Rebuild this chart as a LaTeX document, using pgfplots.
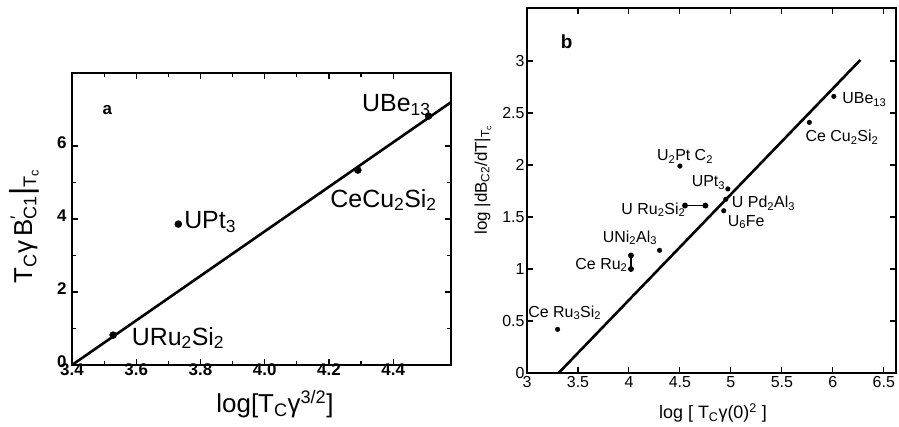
\documentclass[border=0pt]{standalone}
\usepackage{fontspec}
\setmainfont{Liberation Sans}
\usepackage{pgfplots}
\pgfplotsset{compat=1.18}
\begin{document}
\begin{tikzpicture}[x=1bp,y=1bp]
\useasboundingbox (0,0) rectangle (899,426);
% ---------------- panel a ----------------
\begin{axis}[
  at={(72bp,61bp)}, anchor=south west, scale only axis,
  width=379bp, height=292bp,
  xmin=3.4, xmax=4.58, ymin=0, ymax=8,
  xtick={3.4,3.6,3.8,4.0,4.2,4.4},
  xticklabels={3.4,3.6,3.8,4.0,4.2,4.4},
  ytick={0,2,4,6}, yticklabels={0,2,4,6},
  minor x tick num=1, minor y tick num=1,
  tick align=inside, major tick length=6bp, minor tick length=4bp,
  axis line style={line width=1.6bp},
  every tick/.style={line width=1.2bp,black},
  /pgf/number format/assume math mode=true,
  ticklabel style={font=\bfseries\fontsize{17}{19}\selectfont},
  xticklabel style={yshift=5bp},
  yticklabel style={xshift=-2bp, yshift=3bp},
  clip=false,
]
\addplot[line width=2.6bp, black] coordinates {(3.4,0) (4.58,7.2)};
\addplot[only marks, mark=*, mark size=3.5bp, black] coordinates {
  (3.528,0.82) (3.731,3.86) (4.29,5.34) (4.51,6.82)};
\node[font=\fontsize{25}{27}\selectfont] at (axis cs:4.41,7.12) {UBe\textsubscript{13}};
\node[font=\fontsize{25}{27}\selectfont] at (axis cs:4.37,4.52) {CeCu\textsubscript{2}Si\textsubscript{2}};
\node[font=\fontsize{25}{27}\selectfont] at (axis cs:3.83,3.92) {UPt\textsubscript{3}};
\node[font=\fontsize{25}{27}\selectfont] at (axis cs:3.73,0.74) {URu\textsubscript{2}Si\textsubscript{2}};
\node[font=\bfseries\fontsize{17}{19}\selectfont] at (axis cs:3.51,6.98) {a};
\end{axis}
% ---------------- panel b ----------------
\begin{axis}[
  at={(527bp,53bp)}, anchor=south west, scale only axis,
  width=369bp, height=365bp,
  xmin=3, xmax=6.62, ymin=0, ymax=3.51,
  xtick={3,3.5,4,4.5,5,5.5,6,6.5},
  xticklabels={3,3.5,4,4.5,5,5.5,6,6.5},
  ytick={0,0.5,1,1.5,2,2.5,3},
  yticklabels={0,0.5,1,1.5,2,2.5,3},
  tick align=inside, major tick length=6bp,
  axis line style={line width=1.4bp},
  every tick/.style={line width=1.1bp,black},
  /pgf/number format/assume math mode=true,
  ticklabel style={font=\fontsize{16}{18}\selectfont},
  yticklabel style={xshift=1bp},
  clip=false,
]
\addplot[line width=2.6bp, black] coordinates {(3.31,0) (6.27,3.01)};
\addplot[black, line width=1.2bp, mark=*, mark size=2.3bp] coordinates {(4.02,1.0) (4.02,1.13)};
\addplot[black, line width=1.2bp, mark=*, mark size=2.3bp] coordinates {(4.55,1.61) (4.75,1.61)};
\addplot[only marks, mark=*, mark size=2.3bp, black] coordinates {
  (3.30,0.42) (4.30,1.18) (4.50,1.99) (4.97,1.77) (4.95,1.67) (4.93,1.56) (5.77,2.41) (6.01,2.66)};
\begin{scope}[every node/.style={font=\fontsize{16}{18}\selectfont}]
\node at (axis cs:3.37,0.58) {Ce Ru\textsubscript{3}Si\textsubscript{2}};
\node at (axis cs:3.73,1.04) {Ce Ru\textsubscript{2}};
\node at (axis cs:4.01,1.30) {UNi\textsubscript{2}Al\textsubscript{3}};
\node at (axis cs:4.24,1.57) {U Ru\textsubscript{2}Si\textsubscript{2}};
\node at (axis cs:4.55,2.08) {U\textsubscript{2}Pt C\textsubscript{2}};
\node at (axis cs:4.78,1.83) {UPt\textsubscript{3}};
\node at (axis cs:5.32,1.63) {U Pd\textsubscript{2}Al\textsubscript{3}};
\node at (axis cs:5.15,1.45) {U\textsubscript{6}Fe};
\node at (axis cs:6.31,2.63) {UBe\textsubscript{13}};
\node at (axis cs:6.09,2.27) {Ce Cu\textsubscript{2}Si\textsubscript{2}};
\end{scope}
\node[font=\bfseries\fontsize{19}{21}\selectfont] at (axis cs:3.39,3.19) {b};
\end{axis}
% ---------------- axis titles ----------------
\node[font=\fontsize{26}{28}\selectfont] at (275,22) {log[T\textsubscript{C}γ\textsuperscript{3/2}]};
\node[font=\fontsize{26}{28}\selectfont, rotate=90] at (24,200) {T\textsubscript{C}γ\,B\rlap{\textsuperscript{′}}\textsubscript{C1}{\fontsize{32}{32}\selectfont|}\textsubscript{T\textsubscript{c}}};
\node[font=\fontsize{18}{20}\selectfont] at (713,13) {log [ T\textsubscript{C}γ(0)\textsuperscript{2} ]};
\node[font=\fontsize{17}{19}\selectfont, rotate=90] at (483,246) {log |dB\textsubscript{C2}/dT|\textsubscript{T\textsubscript{c}}};
\end{tikzpicture}
\end{document}
